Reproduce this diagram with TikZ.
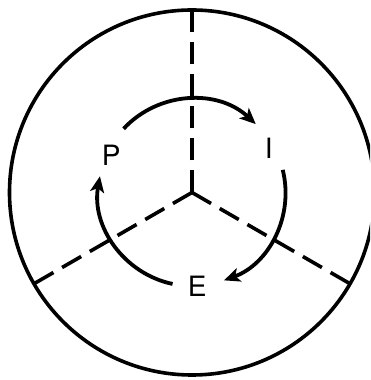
\documentclass[tikz,border=0pt]{standalone}
\usepackage{fontspec}
\setmainfont{TeX Gyre Heros}
\usetikzlibrary{arrows.meta}
\begin{document}
\begin{tikzpicture}[x=1pt,y=1pt,
  ring/.style={line width=3.6pt},
  divider/.style={line width=3.6pt, dash pattern=on 22pt off 10pt},
  cyclearrow/.style={line width=3.8pt, -{Stealth[length=16pt,width=14pt,inset=4pt]}},
  lbl/.style={font=\fontsize{28}{28}\selectfont, inner sep=0pt}]
\useasboundingbox (0,0) rectangle (370,380);
\clip (0,0) rectangle (370,380);
\coordinate (c) at (192,187.5);
\draw[ring] (c) circle (182.5);
\coordinate (dtop) at ([shift={(90:182.5)}]c);
\coordinate (dleft) at ([shift={(210:182.5)}]c);
\coordinate (dright) at ([shift={(-30:182.5)}]c);
\draw[divider] (c) -- (dtop);
\draw[divider] (c) -- (dleft);
\draw[divider] (c) -- (dright);
\node[lbl] (P) at (111.3,225) {P};
\node[lbl] (I) at (268.7,231.7) {I};
\node[lbl] (E) at (197.3,93.3) {E};
\draw[cyclearrow] ([shift={(137:93.5)}]c) arc[start angle=137, end angle=47, radius=93.5];
\draw[cyclearrow] ([shift={(14:93.5)}]c) arc[start angle=14, end angle=-70, radius=93.5];
\draw[cyclearrow] ([shift={(258:93.5)}]c) arc[start angle=258, end angle=170, radius=93.5];
\end{tikzpicture}
\end{document}
